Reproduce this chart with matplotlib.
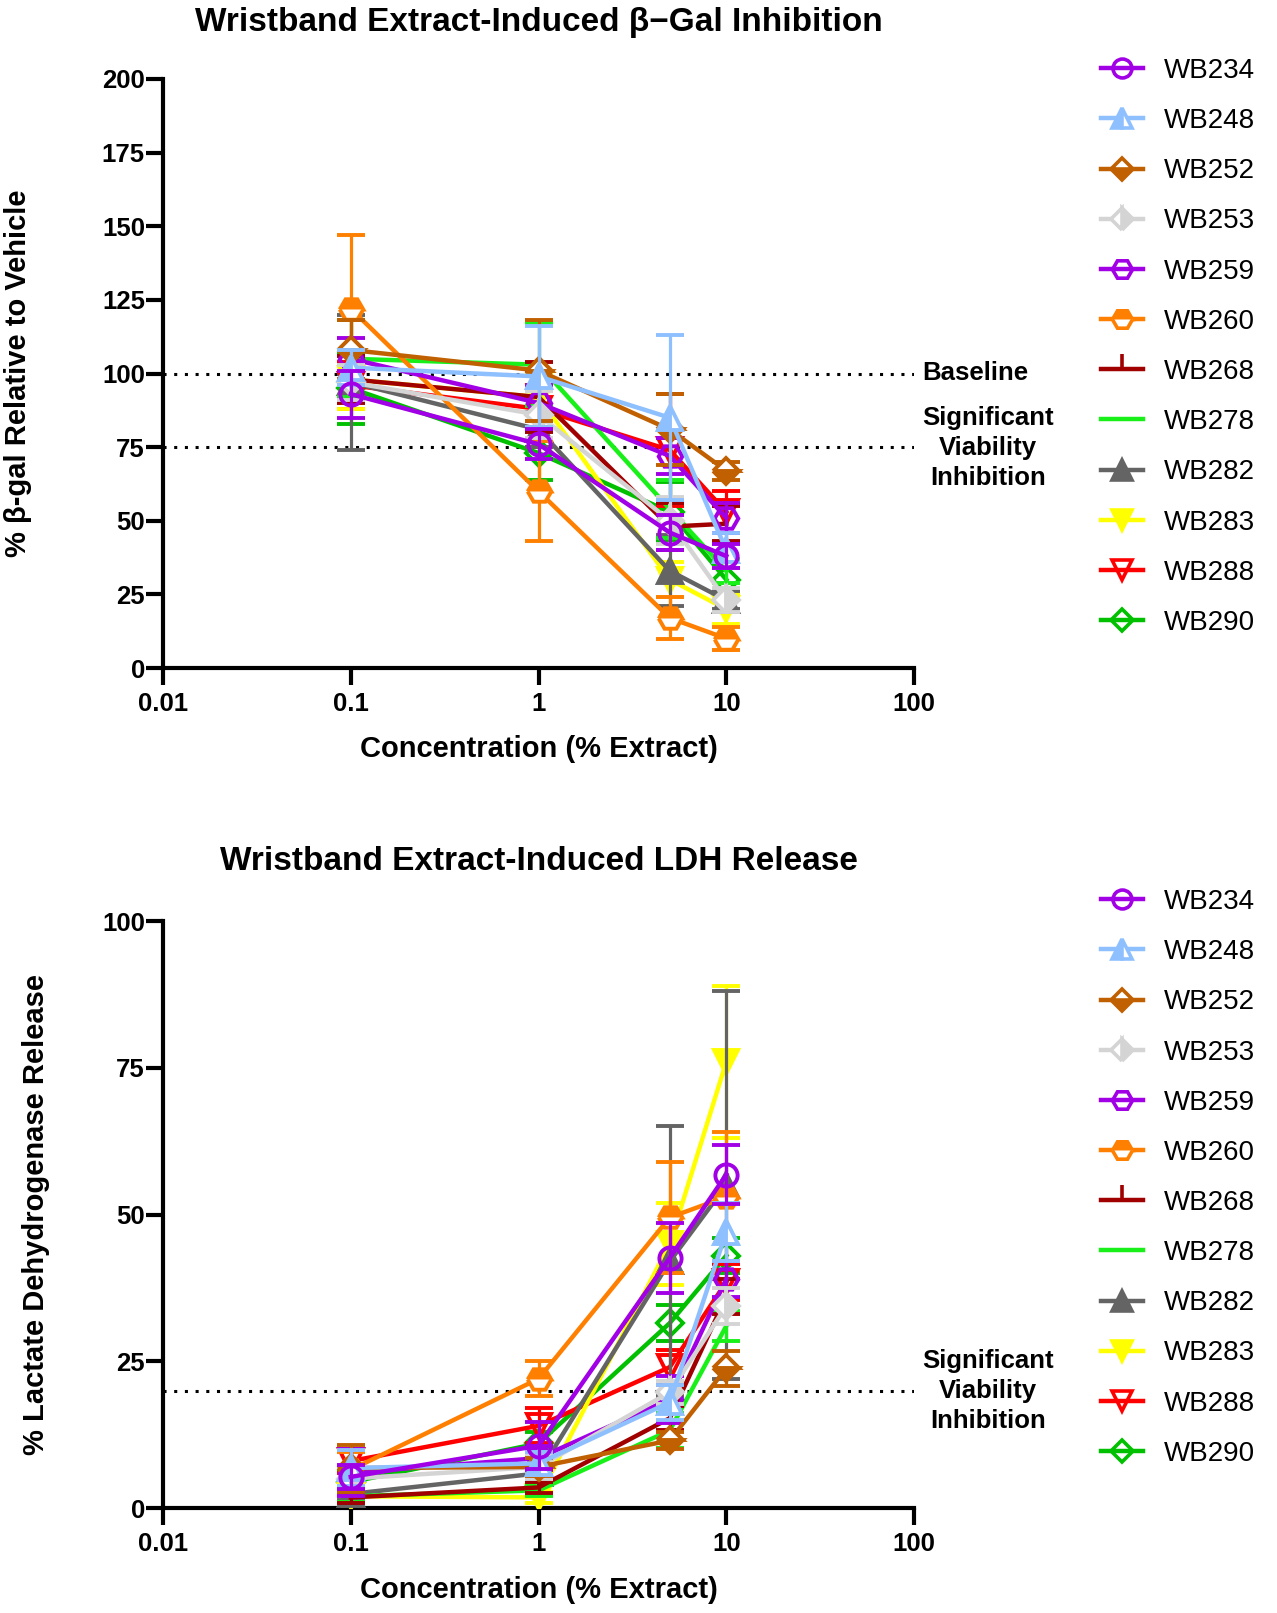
import numpy as np
import matplotlib
matplotlib.use("Agg")
import matplotlib.pyplot as plt
from matplotlib.lines import Line2D

plt.rcParams['font.family'] = ['Liberation Sans', 'DejaVu Sans']

# concentrations (% extract)
conc = [0.1, 1, 5, 10]

samples = ['WB234', 'WB248', 'WB252', 'WB253', 'WB259', 'WB260',
           'WB268', 'WB278', 'WB282', 'WB283', 'WB288', 'WB290']

# beta-gal inhibition (% relative to vehicle), mean and SD
bgal_mean = {
    'WB234': [93, 76, 46, 38],
    'WB248': [102, 99, 85, 40],
    'WB252': [108, 101, 81, 67],
    'WB253': [97, 86, 50, 23],
    'WB259': [105, 90, 72, 51],
    'WB260': [122, 60, 17, 10],
    'WB268': [98, 92, 48, 49],
    'WB278': [105, 103, 54, 33],
    'WB282': [97, 81, 33, 23],
    'WB283': [98, 92, 30, 20],
    'WB288': [96, 88, 74, 53],
    'WB290': [95, 73, 53, 30],
}
bgal_sd = {
    'WB234': [8, 5, 6, 4],
    'WB248': [6, 17, 28, 6],
    'WB252': [10, 17, 12, 3],
    'WB253': [6, 8, 8, 4],
    'WB259': [7, 6, 6, 5],
    'WB260': [25, 17, 7, 4],
    'WB268': [8, 12, 8, 6],
    'WB278': [13, 14, 10, 4],
    'WB282': [23, 6, 12, 3],
    'WB283': [10, 8, 6, 5],
    'WB288': [8, 13, 19, 7],
    'WB290': [12, 9, 10, 4],
}

# LDH release (%), mean and SD
ldh_mean = {
    'WB234': [5.3, 10.6, 42.6, 56.8],
    'WB248': [6.8, 7.6, 18, 47],
    'WB252': [6.8, 7, 11.5, 23.8],
    'WB253': [5, 7, 19.7, 34.4],
    'WB259': [6, 8.5, 18.5, 39],
    'WB260': [6.5, 22, 49.5, 53],
    'WB268': [1.8, 3.5, 15.3, 36],
    'WB278': [2, 3, 13.2, 31],
    'WB282': [2.4, 5.9, 42, 55],
    'WB283': [2, 1.8, 45, 76],
    'WB288': [8, 14, 24, 38.5],
    'WB290': [4.4, 11, 31.5, 43],
}
ldh_sd = {
    'WB234': [2, 4, 6, 5],
    'WB248': [3, 2, 3, 5],
    'WB252': [4, 1.5, 1.5, 3],
    'WB253': [2, 2, 2, 3],
    'WB259': [4, 2, 4, 3],
    'WB260': [3, 3, 9.5, 11],
    'WB268': [1, 1, 2, 3],
    'WB278': [1, 1, 3, 2.5],
    'WB282': [1, 1.5, 23, 33],
    'WB283': [1, 1, 7, 13],
    'WB288': [2, 3, 3, 3],
    'WB290': [2, 2, 3, 3],
}

# colour, marker, fillstyle, marker size
styles = {
    'WB234': ('#A100E6', 'o', 'none', 16),
    'WB248': ('#8EC0FF', '^', 'left', 17),
    'WB252': ('#C06000', 'D', 'bottom', 13),
    'WB253': ('#D4D4D4', 'D', 'right', 13),
    'WB259': ('#A100E6', 'H', 'none', 17),
    'WB260': ('#FF8000', 'H', 'top', 17),
    'WB268': ('#A00000', 2, 'full', 13),
    'WB278': ('#19F019', None, 'full', 13),
    'WB282': ('#646464', '^', 'full', 17),
    'WB283': ('#FFFF00', 'v', 'full', 17),
    'WB288': ('#FF0000', 'v', 'none', 17),
    'WB290': ('#00C000', 'D', 'none', 13),
}

fig = plt.figure(figsize=(12.77, 16.13), dpi=100)
W, H = 1277, 1613


def make_axes(top_px, bot_px):
    return fig.add_axes([163 / W, 1 - bot_px / H, (914 - 163) / W, (bot_px - top_px) / H])


def draw_panel(ax, means, sds):
    for i, s in enumerate(reversed(samples)):
        col, mk, fs, ms = styles[s]
        ax.errorbar(conc, means[s], yerr=sds[s], color=col, lw=3.2,
                    elinewidth=2.3, capsize=10, capthick=2.3,
                    marker=mk, ms=ms, mew=2.8, mec=col, mfc=col,
                    fillstyle=fs, markerfacecoloralt='white', zorder=3 + i)
    ax.set_xscale('log')
    ax.set_xlim(0.01, 100)
    ax.set_xticks([0.01, 0.1, 1, 10, 100], ['0.01', '0.1', '1', '10', '100'])
    ax.xaxis.set_minor_locator(matplotlib.ticker.NullLocator())
    for sp in ['top', 'right']:
        ax.spines[sp].set_visible(False)
    for sp in ['left', 'bottom']:
        ax.spines[sp].set_linewidth(3)
    ax.tick_params(axis='both', width=3, length=12, labelsize=18.5)
    ax.tick_params(axis='y', pad=1)
    ax.tick_params(axis='x', pad=5)
    ax.set_xlabel('Concentration (% Extract)', fontsize=21, fontweight='bold')
    ax.xaxis.label.set_va('center')
    ax.yaxis.label.set_va('center')


def legend_handles():
    hs = []
    for s in samples:
        col, mk, fs, ms = styles[s]
        hs.append(Line2D([], [], color=col, lw=3.2, marker=mk, ms=ms * 0.85, mew=2.6,
                         mec=col, mfc=col, fillstyle=fs, markerfacecoloralt='white'))
    return hs


def bold_ticks(ax):
    for lab in ax.get_xticklabels() + ax.get_yticklabels():
        lab.set_fontweight('bold')


dots = (0, (1, 2.5))

# ---- top panel: beta-gal ----
ax1 = make_axes(79, 668)
draw_panel(ax1, bgal_mean, bgal_sd)
ax1.set_ylim(0, 200)
ax1.set_yticks([0, 25, 50, 75, 100, 125, 150, 175, 200])
bold_ticks(ax1)
ax1.axhline(100, color='black', ls=dots, lw=2.2, zorder=1)
ax1.axhline(75, color='black', ls=dots, lw=2.2, zorder=1)
ax1.set_ylabel('% β-gal Relative to Vehicle', fontsize=21, fontweight='bold')
ax1.yaxis.set_label_coords((18.5 - 163) / 751, 0.5)
ax1.xaxis.set_label_coords(0.5, (668 - 749) / 589)
ax1.text(0.5, (668 - 22.6) / 589, 'Wristband Extract-Induced β−Gal Inhibition',
         transform=ax1.transAxes, ha='center', va='center', fontsize=24, fontweight='bold')
fig.text(975 / W, 1 - 373 / H, 'Baseline', ha='center', va='center',
         fontsize=18.5, fontweight='bold')
fig.text(988 / W, 1 - 448 / H, 'Significant\nViability\nInhibition', ha='center',
         va='center', fontsize=18.5, fontweight='bold', linespacing=1.3)
fig.legend(legend_handles(), samples, loc='upper left', bbox_to_anchor=(1101 / W, 1 - 58 / H),
           frameon=False, fontsize=20, handlelength=1.5, handletextpad=0.75,
           labelspacing=0.87, borderpad=0, borderaxespad=0)

# ---- bottom panel: LDH ----
ax2 = make_axes(921, 1508)
draw_panel(ax2, ldh_mean, ldh_sd)
ax2.set_ylim(0, 100)
ax2.set_yticks([0, 25, 50, 75, 100])
bold_ticks(ax2)
ax2.axhline(20, color='black', ls=dots, lw=2.2, zorder=1)
ax2.set_ylabel('% Lactate Dehydrogenase Release', fontsize=21, fontweight='bold')
ax2.yaxis.set_label_coords((36 - 163) / 751, 0.5)
ax2.xaxis.set_label_coords(0.5, (1508 - 1589.5) / 587)
ax2.text(0.5, (1508 - 861) / 587, 'Wristband Extract-Induced LDH Release',
         transform=ax2.transAxes, ha='center', va='center', fontsize=24, fontweight='bold')
fig.text(988 / W, 1 - 1391 / H, 'Significant\nViability\nInhibition', ha='center',
         va='center', fontsize=18.5, fontweight='bold', linespacing=1.3)
fig.legend(legend_handles(), samples, loc='upper left', bbox_to_anchor=(1101 / W, 1 - 889 / H),
           frameon=False, fontsize=20, handlelength=1.5, handletextpad=0.75,
           labelspacing=0.87, borderpad=0, borderaxespad=0)

fig.savefig('out.png', dpi=100)
